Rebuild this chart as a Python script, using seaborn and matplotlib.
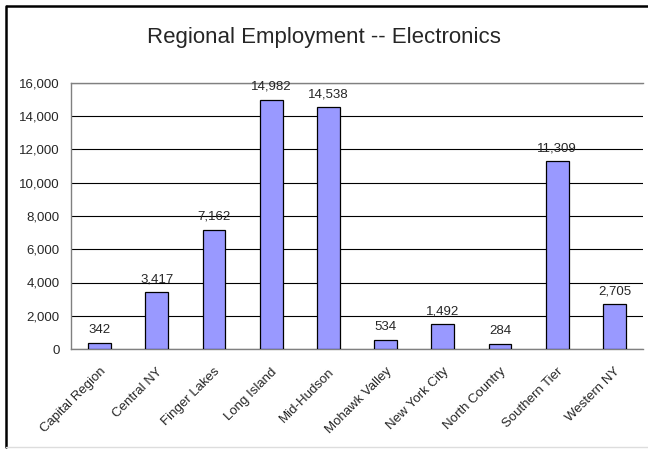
import matplotlib
matplotlib.use("Agg")
import matplotlib.pyplot as plt
from matplotlib.lines import Line2D
import seaborn as sns
import pandas as pd

regions = ["Capital Region", "Central NY", "Finger Lakes", "Long Island", "Mid-Hudson",
           "Mohawk Valley", "New York City", "North Country", "Southern Tier", "Western NY"]
employment = [342, 3417, 7162, 14982, 14538, 534, 1492, 284, 11309, 2705]
y_ticks = [0, 2000, 4000, 6000, 8000, 10000, 12000, 14000, 16000]

df = pd.DataFrame({"Region": regions, "Employment": employment})

sns.set_style("white")
plt.rcParams["font.family"] = ["Liberation Sans", "DejaVu Sans"]

fig = plt.figure(figsize=(6.48, 4.49), dpi=100)
ax = fig.add_axes([71 / 648, 1 - 349 / 449, 572 / 648, 266 / 449])

sns.barplot(data=df, x="Region", y="Employment", color="#9999FF", saturation=1,
            width=0.4, edgecolor="black", linewidth=0.9, ax=ax, zorder=3)

ax.set_ylim(0, 16000)
ax.set_xlim(-0.5, len(regions) - 0.5)
ax.set_yticks(y_ticks)
ax.set_yticklabels([f"{v:,}" for v in y_ticks], fontsize=9.5)
ax.yaxis.grid(True, color="black", linewidth=0.8, zorder=0)
ax.set_axisbelow(True)
ax.set_xlabel("")
ax.set_ylabel("")

# category ticks sit on the boundaries between bars
ax.set_xticks([i - 0.5 for i in range(len(regions) + 1)], minor=True)
ax.tick_params(axis="x", which="minor", length=4, width=0.8, color="#808080", direction="out")
ax.tick_params(axis="x", which="major", length=0, pad=12)
ax.tick_params(axis="y", length=5, width=0.8, color="#808080", direction="out", pad=3)
ax.set_xticks(range(len(regions)))
ax.set_xticklabels(regions, rotation=45, ha="right", rotation_mode="anchor", fontsize=9.5)

for side in ["left", "bottom", "top", "right"]:
    ax.spines[side].set_color("#808080")
    ax.spines[side].set_linewidth(1.0)
ax.spines["right"].set_visible(False)

ax.bar_label(ax.containers[0], labels=[f"{v:,}" for v in employment],
             fontsize=9.5, padding=5)

fig.text(0.5, 1 - 38 / 449, "Regional Employment -- Electronics", ha="center",
         va="center", fontsize=16)

# outer chart frame
fig.add_artist(Line2D([5.5 / 648, 1.0], [1 - 5.5 / 449, 1 - 5.5 / 449],
                      transform=fig.transFigure, color="black", linewidth=1.8,
                      solid_capstyle="butt"))
fig.add_artist(Line2D([5.5 / 648, 5.5 / 648], [1 - 5.5 / 449, 2 / 449],
                      transform=fig.transFigure, color="black", linewidth=1.8))
fig.add_artist(Line2D([5.5 / 648, 1.0], [2 / 449, 2 / 449],
                      transform=fig.transFigure, color="#dddddd", linewidth=1.0))

fig.savefig("out.png", dpi=100)
